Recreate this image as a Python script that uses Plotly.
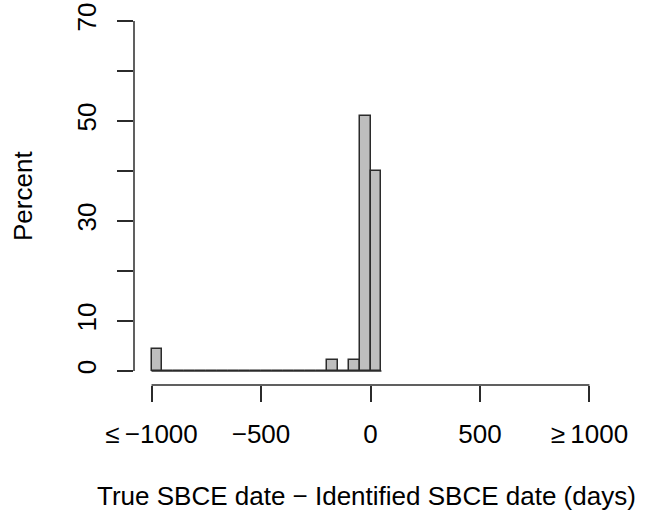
import plotly.graph_objects as go

# Histogram bins (days) and percentages
bin_left = [-1000, -950, -900, -850, -800, -750, -700, -650, -600, -550,
            -500, -450, -400, -350, -300, -250, -200, -150, -100, -50, 0]
percent = [4.4, 0, 0, 0, 0, 0, 0, 0, 0, 0,
           0, 0, 0, 0, 0, 0, 2.2, 0, 2.2, 51.1, 40.0]
bin_width = 50

x_tick_vals = [-1000, -500, 0, 500, 1000]
x_tick_text = ["\u2264\u2009\u22121000", "\u2212500", "0", "500", "\u2265\u20091000"]
y_tick_vals = [0, 10, 20, 30, 40, 50, 60, 70]
y_tick_text = ["0", "10", "", "30", "", "50", "", "70"]

x_title = "True SBCE date \u2212 Identified SBCE date (days)"
y_title = "Percent"

FONT = "Liberation Sans, Arial, Helvetica, sans-serif"
LINE = "#2b2b2b"

centers = [b + bin_width / 2 for b in bin_left]

fig = go.Figure()
# baseline of the empty bins
fig.add_trace(go.Scatter(
    x=[bin_left[0], bin_left[-1] + bin_width], y=[0, 0],
    mode="lines", line=dict(color=LINE, width=1.5),
    hoverinfo="skip", showlegend=False))
fig.add_trace(go.Bar(
    x=centers, y=percent, width=bin_width,
    marker=dict(color="#bebebe", line=dict(color=LINE, width=1.5)),
    showlegend=False))

xpad = (x_tick_vals[-1] - x_tick_vals[0]) * 0.04
ypad = (y_tick_vals[-1] - y_tick_vals[0]) * 0.04

fig.update_layout(
    width=662, height=514,
    margin=dict(l=134, r=55, t=7, b=129, pad=0),
    plot_bgcolor="white", paper_bgcolor="white",
    font=dict(family=FONT, size=26, color="black"),
    bargap=0,
    xaxis=dict(
        range=[x_tick_vals[0] - xpad, x_tick_vals[-1] + xpad],
        tickvals=x_tick_vals, ticktext=x_tick_text,
        ticks="outside", ticklen=16, tickwidth=1.5, tickcolor=LINE,
        showgrid=False, zeroline=False, showline=False,
        automargin=False, ticklabeloverflow="allow",
        ticklabelstandoff=10,
        tickfont=dict(family=FONT, size=26, color="black"),
    ),
    yaxis=dict(
        range=[y_tick_vals[0] - ypad, y_tick_vals[-1] + ypad],
        tickvals=y_tick_vals, ticktext=y_tick_text,
        ticks="outside", ticklen=16, tickwidth=1.5, tickcolor=LINE,
        tickangle=-90,
        showgrid=False, zeroline=False, showline=False,
        automargin=False, ticklabeloverflow="allow",
        ticklabelstandoff=11,
        tickfont=dict(family=FONT, size=26, color="black"),
    ),
    shapes=[
        dict(type="line", xref="x", yref="paper",
             x0=x_tick_vals[0], x1=x_tick_vals[-1], y0=0, y1=0,
             line=dict(color=LINE, width=1.5)),
        dict(type="line", xref="paper", yref="y",
             x0=0, x1=0, y0=y_tick_vals[0], y1=y_tick_vals[-1],
             line=dict(color=LINE, width=1.5)),
    ],
    annotations=[
        dict(text=x_title, xref="paper", yref="paper", x=0.5, y=0,
             xanchor="center", yanchor="middle", yshift=-111, xshift=-4,
             showarrow=False, font=dict(family=FONT, size=26, color="black")),
        dict(text=y_title, xref="paper", yref="paper", x=0, y=0.5,
             xanchor="center", yanchor="middle", xshift=-111, textangle=-90,
             showarrow=False, font=dict(family=FONT, size=26, color="black")),
    ],
)

fig.write_html(
    "out.html",
    config={"displayModeBar": False},
    post_script="document.body.style.margin='0';document.body.style.overflow='hidden';",
)
